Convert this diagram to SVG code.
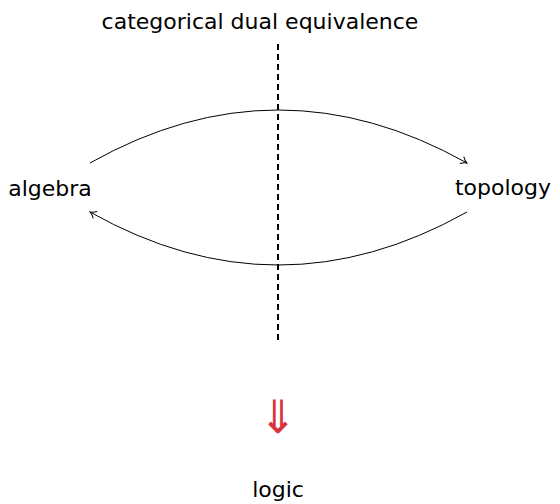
<svg xmlns="http://www.w3.org/2000/svg" width="560" height="504" viewBox="0 0 560 504">
<style>
text{font-family:"DejaVu Sans","Liberation Sans",sans-serif;font-size:22px;fill:#000}
.c{fill:none;stroke:#000;stroke-width:1}
.imp{fill:#d9333f;font-size:46px}
</style>
<defs>
<marker id="ah" markerWidth="10" markerHeight="10" refX="8" refY="5" orient="auto" markerUnits="userSpaceOnUse">
<path d="M2,1 Q5,4 8,5 Q5,6 2,9" fill="none" stroke="#000" stroke-width="1"/>
</marker>
</defs>
<rect width="560" height="504" fill="#fff"/>
<g id="title"><text x="260" y="29" text-anchor="middle">categorical dual equivalence</text></g>
<g id="algebra"><text x="50" y="196" text-anchor="middle">algebra</text></g>
<g id="topology"><text x="503" y="195" text-anchor="middle">topology</text></g>
<g id="logic"><text x="278" y="497" text-anchor="middle">logic</text></g>
<g id="connectors">
<line x1="278" y1="44" x2="278" y2="340" stroke="#000" stroke-width="2" stroke-dasharray="6,4"/>
<path class="c" d="M90,163 Q278,57 467,163" marker-end="url(#ah)"/>
<path class="c" d="M467,212 Q278,318 90,212" marker-end="url(#ah)"/>
</g>
<g id="implies"><text class="imp" x="278" y="433" text-anchor="middle">⇓</text></g>
</svg>
